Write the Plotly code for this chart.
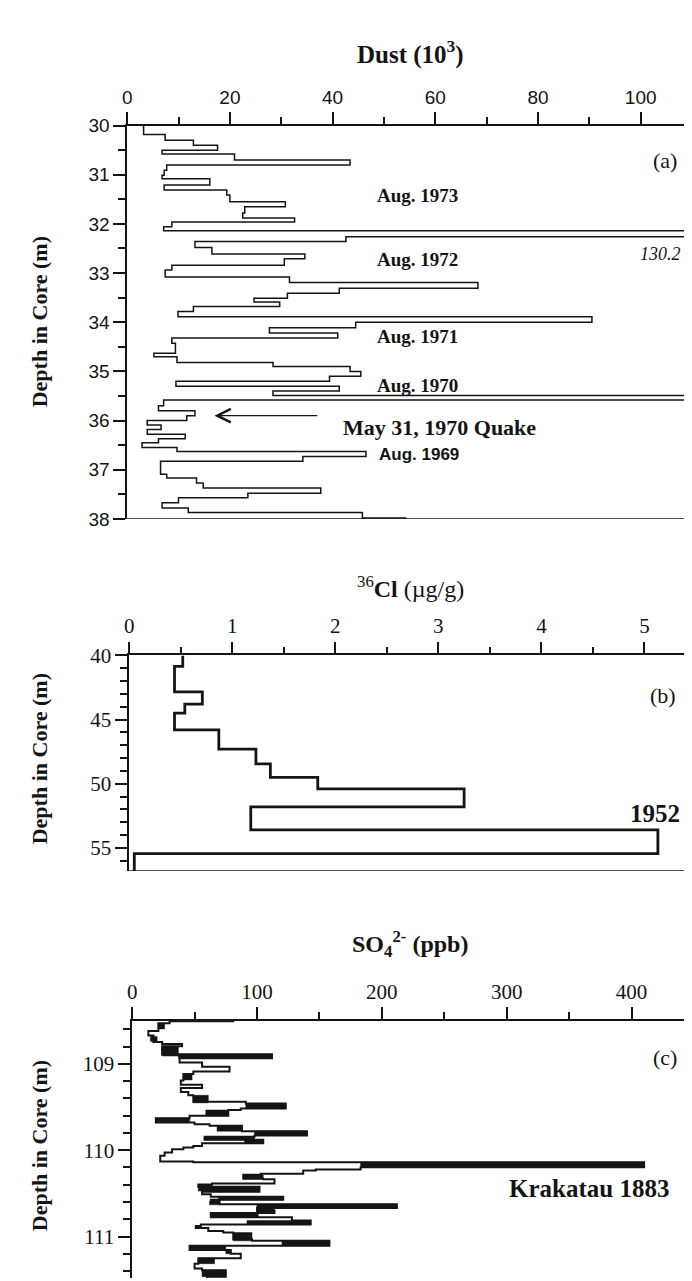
import plotly.graph_objects as go

# ---------------- data ----------------
# Panel (a): dust concentration (10^3) step profile, depth of layer top (m)
dust_depth = [30.00, 30.18, 30.30, 30.40, 30.50, 30.58, 30.70, 30.80, 30.91, 31.01,
              31.08, 31.21, 31.31, 31.41, 31.55, 31.65, 31.78, 31.88, 31.96, 32.06,
              32.14, 32.26, 32.36, 32.48, 32.61, 32.71, 32.84, 32.94, 33.08, 33.19,
              33.31, 33.41, 33.51, 33.59, 33.68, 33.78, 33.89, 34.00, 34.11, 34.22,
              34.32, 34.43, 34.63, 34.70, 34.82, 34.90, 35.00, 35.10, 35.20, 35.30,
              35.40, 35.49, 35.58, 35.70, 35.80, 35.90, 36.00, 36.09, 36.18, 36.28,
              36.37, 36.45, 36.55, 36.63, 36.73, 36.83, 37.09, 37.17, 37.27, 37.37,
              37.48, 37.57, 37.67, 37.78, 37.87, 37.98]
dust_value = [3.2, 7.4, 12.9, 17.6, 6.8, 20.9, 43.4, 7.7, 7.2, 6.8,
              16.1, 7.2, 19.4, 20.0, 30.8, 22.9, 22.5, 32.6, 8.7, 7.1,
              130.2, 42.6, 13.2, 16.5, 34.6, 30.6, 8.7, 7.4, 31.6, 68.3,
              41.3, 31.2, 24.7, 29.7, 12.9, 9.9, 90.5, 44.5, 27.7, 41.0,
              8.7, 9.4, 5.2, 9.7, 28.4, 43.4, 45.5, 39.4, 9.5, 41.3,
              28.4, 109.0, 7.1, 6.1, 13.2, 11.6, 3.9, 6.6, 3.9, 11.3,
              6.1, 2.9, 9.7, 46.5, 34.2, 6.5, 7.7, 13.5, 14.8, 37.7,
              23.5, 10.0, 6.8, 11.9, 45.8, 54.2]
dust_bottom = 38.0

# Panel (b): 36Cl (ug/g)
cl_depth = [40.0, 40.85, 42.85, 43.8, 44.5, 45.8, 47.3, 48.45, 49.5, 50.4, 51.8, 53.6, 55.45]
cl_value = [0.52, 0.44, 0.71, 0.54, 0.44, 0.87, 1.23, 1.37, 1.83, 3.25, 1.18, 5.13, 0.05]
cl_bottom = 56.8

# Panel (c): SO4 2- (ppb)
so4_depth = [108.500, 108.505, 108.530, 108.618, 108.670, 108.746, 108.769, 108.795, 108.890, 108.935,
             108.985, 109.034, 109.087, 109.117, 109.193, 109.243, 109.280, 109.326, 109.364, 109.440,
             109.459, 109.516, 109.534, 109.602, 109.629, 109.678, 109.700, 109.716, 109.780, 109.829,
             109.844, 109.880, 109.920, 109.950, 109.970, 109.989, 110.026, 110.064, 110.132, 110.140,
             110.197, 110.223, 110.235, 110.273, 110.284, 110.330, 110.337, 110.386, 110.397, 110.424,
             110.481, 110.510, 110.538, 110.575, 110.594, 110.625, 110.670, 110.700, 110.727, 110.776,
             110.814, 110.860, 110.878, 110.900, 110.935, 110.954, 111.030, 111.049, 111.106, 111.155,
             111.200, 111.250, 111.314, 111.371, 111.390, 111.465]
so4_value = [81, 30, 21, 13, 17, 24, 40, 24, 112, 38,
             56, 78, 49, 41, 39, 56, 39, 45, 49, 91,
             123, 87, 77, 46, 19, 50, 62, 88, 140, 98,
             58, 105, 56, 49, 41, 32, 26, 22.5, 49, 410,
             183, 147, 137, 103, 89, 105, 114, 64, 53, 102,
             56, 63, 121, 63, 70, 212, 100, 114, 63, 128,
             143, 55, 51, 61, 73, 81, 96, 158, 46, 79,
             87, 53, 50, 56, 75, 60]
so4_bottom = 111.48

# dense (black) parts of the SO4 profile: depth top/bottom, value low/high
so4_blk_top = [108.530, 108.682, 108.795, 108.890, 109.117, 109.364, 109.459, 109.534, 109.629, 109.716,
               109.780, 109.844, 109.880, 110.140, 110.284, 110.397, 110.424, 110.538, 110.594, 110.625,
               110.640, 110.727, 110.814, 110.954, 111.049, 111.106, 111.155, 111.250, 111.390]
so4_blk_bot = [108.595, 108.739, 108.909, 108.935, 109.186, 109.451, 109.516, 109.602, 109.678, 109.780,
               109.829, 109.880, 109.920, 110.197, 110.330, 110.473, 110.481, 110.575, 110.632, 110.670,
               110.727, 110.776, 110.860, 111.049, 111.106, 111.155, 111.200, 111.314, 111.465]
so4_blk_lo = [21, 14.6, 24, 37, 41, 49, 91, 59, 19, 68,
              98, 58, 90, 183, 89, 53, 64, 69, 62, 100,
              100, 63, 92, 81, 120, 46, 75, 53, 56]
so4_blk_hi = [26, 20, 37, 112, 48, 61, 123, 77, 46, 88,
              140, 98, 105, 410, 105, 64, 102, 121, 70, 212,
              114, 101, 143, 96, 158, 75, 79, 66, 75]

# ---------------- helpers ----------------
SANS = "Liberation Sans, Arial, sans-serif"
SERIF = "Liberation Serif, Times New Roman, serif"
INK = "#141414"


def step_xy(depths, values, bottom):
    return list(values) + [values[-1]], list(depths) + [bottom]


def rect_xy(top, bot, lo, hi):
    xs, ys = [], []
    for t, b, l, h in zip(top, bot, lo, hi):
        xs += [l, h, h, l, l, None]
        ys += [t, t, b, b, t, None]
    return xs, ys


fig = go.Figure()

x, y = step_xy(dust_depth, dust_value, dust_bottom)
fig.add_trace(go.Scatter(x=x, y=y, mode="lines", line=dict(color=INK, width=1.5, shape="vh"),
                         xaxis="x", yaxis="y", hoverinfo="skip"))

x, y = step_xy(cl_depth, cl_value, cl_bottom)
fig.add_trace(go.Scatter(x=x, y=y, mode="lines", line=dict(color=INK, width=2.8, shape="vh"),
                         xaxis="x2", yaxis="y2", hoverinfo="skip"))

x, y = rect_xy(so4_blk_top, so4_blk_bot, so4_blk_lo, so4_blk_hi)
fig.add_trace(go.Scatter(x=x, y=y, mode="lines", fill="toself", fillcolor=INK,
                         line=dict(color=INK, width=0.5), xaxis="x3", yaxis="y3", hoverinfo="skip"))
x, y = step_xy(so4_depth, so4_value, so4_bottom)
fig.add_trace(go.Scatter(x=x, y=y, mode="lines", line=dict(color=INK, width=2.0, shape="vh"),
                         xaxis="x3", yaxis="y3", hoverinfo="skip"))


def xaxis(domain, rng, dtick, minor, font, anchor):
    return dict(domain=domain, range=rng, side="top", anchor=anchor, showline=True,
                linecolor=INK, linewidth=1.5, ticks="outside", ticklen=12, tickwidth=1.5,
                tickcolor=INK, tick0=0, dtick=dtick,
                minor=dict(dtick=minor, tick0=0, ticklen=7, tickwidth=1.5, tickcolor=INK, ticks="outside"),
                tickfont=font, showgrid=False, zeroline=False, fixedrange=True)


def yaxis(domain, rng, dtick, minor, font, anchor, t0=0):
    return dict(domain=domain, range=rng, anchor=anchor, showline=True, linecolor=INK,
                linewidth=1.5, ticks="outside", ticklen=12, tickwidth=1.5, tickcolor=INK,
                tick0=t0, dtick=dtick,
                minor=dict(dtick=minor, tick0=0, ticklen=7, tickwidth=1.5, tickcolor=INK, ticks="outside"),
                tickfont=font, showgrid=False, zeroline=False, fixedrange=True)


fsans = dict(family=SANS, size=19, color=INK)
fserif = dict(family=SERIF, size=21, color=INK)

W, H = 692, 1281
fig.update_layout(
    width=W, height=H, margin=dict(l=0, r=0, t=0, b=0),
    paper_bgcolor="white", plot_bgcolor="white", showlegend=False,
    xaxis=xaxis([115 / W, 684 / W], [0, 110], 20, 10, fsans, "y"),
    yaxis=yaxis([1 - 508 / H, 1 - 107.5 / H], [38, 30], 1, 0.5, fsans, "x"),
    xaxis2=xaxis([117 / W, 688 / W], [0, 5.5], 1, 0.5, fserif, "y2"),
    yaxis2=yaxis([1 - 866.6 / H, 1 - 647 / H], [cl_bottom, 40], 5, 1, fserif, "x2"),
    xaxis3=xaxis([120 / W, 686 / W], [0, 450], 100, 50, fserif, "y3"),
    yaxis3=yaxis([0, 1 - 1019 / H], [so4_bottom, 108.5], 1, 0.2, fserif, "x3"),
)

shapes = [
    dict(type="line", xref="x domain", yref="y", x0=0, x1=1, y0=dust_bottom, y1=dust_bottom,
         line=dict(color=INK, width=1.5)),
    dict(type="line", xref="x2 domain", yref="y2", x0=0, x1=1, y0=cl_bottom, y1=cl_bottom,
         line=dict(color=INK, width=1.5)),
]
fig.update_layout(shapes=shapes)

ann = []


def txt(text, x, y, xref, yref, size, family=SERIF, xanchor="center", angle=0):
    ann.append(dict(text=text, x=x, y=y, xref=xref, yref=yref, showarrow=False,
                    xanchor=xanchor, yanchor="middle", textangle=angle,
                    font=dict(family=family, size=size, color=INK)))


# titles
txt("<b>Dust (10<sup>3</sup>)</b>", 400 / W, 1 - 33 / H, "paper", "paper", 25)
txt("<sup>36</sup><b>Cl</b> (\u00b5g/g)", 400 / W, 1 - 577 / H, "paper", "paper", 24)
txt("<b>SO<sub>4</sub><sup>2-</sup> (ppb)</b>", 400 / W, 1 - 941 / H, "paper", "paper", 24)
for yc in (307, 752, 1146):
    txt("<b>Depth in Core (m)</b>", 27 / W, 1 - yc / H, "paper", "paper", 22, angle=-90)

# panel a labels
txt("(a)", 104.8, 30.71, "x", "y", 22)
for lab, d in (("Aug. 1973", 31.43), ("Aug. 1972", 32.73), ("Aug. 1971", 34.30), ("Aug. 1970", 35.28)):
    txt("<b>%s</b>" % lab, 56.5, d, "x", "y", 19)
txt("<b>May 31, 1970 Quake</b>", 41.6, 36.14, "x", "y", 22, xanchor="left")
txt("<b>Aug. 1969</b>", 48.7, 36.70, "x", "y", 17, family=SANS, xanchor="left")
txt("<i>130.2</i>", 103.9, 32.61, "x", "y", 18)
ann.append(dict(text=">", x=686 / W, y=32.20, xref="paper", yref="y", showarrow=False,
                xanchor="right", yanchor="middle", font=dict(family=SANS, size=14, color=INK)))
ann.append(dict(x=17.0, y=35.90, ax=37.3, ay=35.90, xref="x", yref="y", axref="x", ayref="y",
                text="", showarrow=True, arrowhead=5, arrowsize=2.2, arrowwidth=1.2, arrowcolor=INK))

# panel b labels
txt("(b)", 5.18, 43.1, "x2", "y2", 22)
txt("<b>1952</b>", 5.1, 52.3, "x2", "y2", 25)

# panel c labels
txt("(c)", 427, 108.93, "x3", "y3", 22)
txt("<b>Krakatau 1883</b>", 366, 110.44, "x3", "y3", 25)

fig.update_layout(annotations=ann)
fig.write_html("out.html")
